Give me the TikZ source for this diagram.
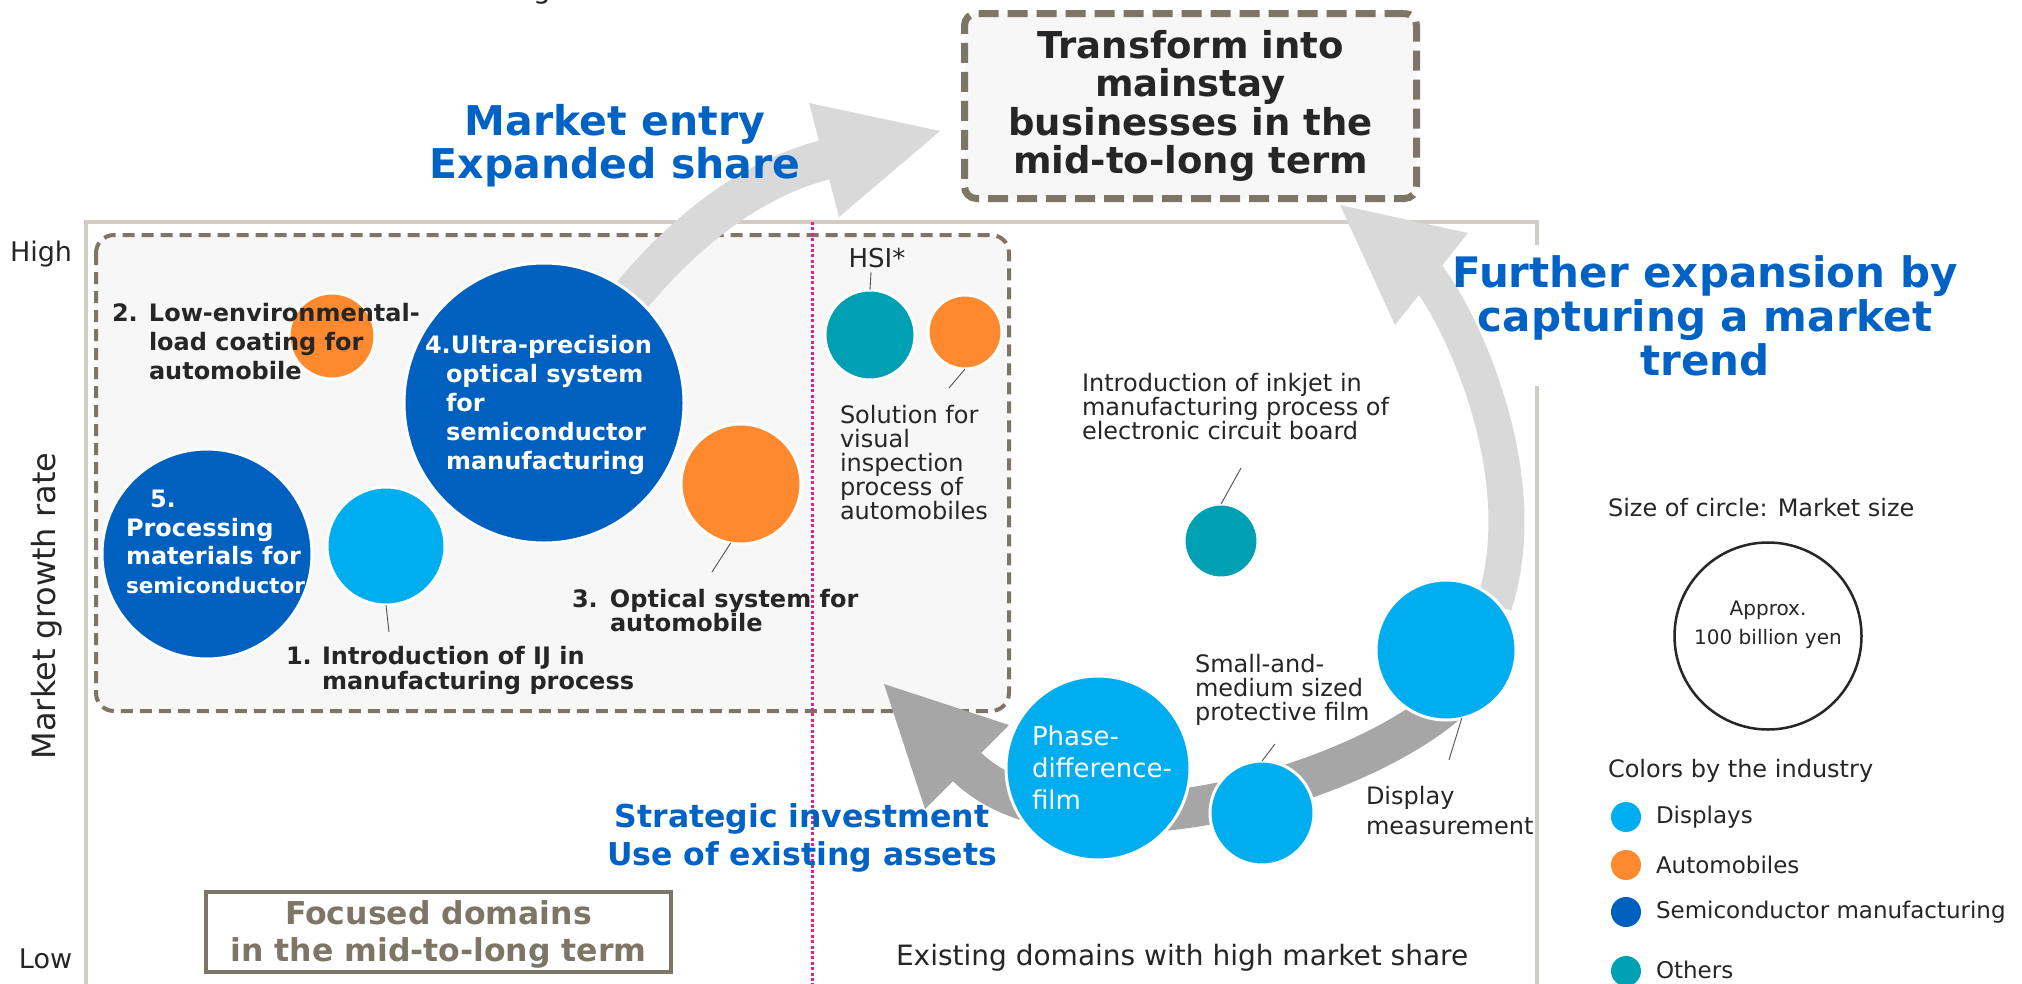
\documentclass[tikz,border=0pt]{standalone}
\usepackage{fontspec}
\setmainfont{DejaVu Sans}
\usetikzlibrary{arrows.meta}
\definecolor{cdisp}{RGB}{0,174,239}
\definecolor{cauto}{RGB}{255,137,46}
\definecolor{csemi}{RGB}{0,96,192}
\definecolor{cother}{RGB}{0,160,180}
\definecolor{lgray}{RGB}{217,217,217}
\definecolor{dgray}{RGB}{166,166,166}
\definecolor{taupe}{RGB}{125,117,101}
\definecolor{framec}{RGB}{208,205,198}
\definecolor{panel}{RGB}{247,247,247}
\definecolor{magline}{RGB}{218,36,146}
\definecolor{txt}{RGB}{38,38,38}
\definecolor{bluetxt}{RGB}{0,98,196}
\newcommand\myfs[2]{\fontsize{#1}{#2}\selectfont}
\begin{document}
\begin{tikzpicture}[x=1pt,y=-1pt,
  every node/.style={inner sep=0pt,outer sep=0pt},
  bub/.style={circle,draw=white,line width=3pt,minimum size=#1pt},
  nlab/.style={text=txt,align=left,font=\myfs{24}{24}},
  blab/.style={text=txt,align=left,font=\myfs{24}{29}\bfseries},
  wlab/.style={text=white,align=left,font=\myfs{24}{29}\bfseries},
  leader/.style={draw=txt!80,line width=0.9pt},
  bigblue/.style={text=bluetxt,align=center,font=\myfs{41}{43}\bfseries},
  legdot/.style={circle,minimum size=30pt}]
\useasboundingbox[fill=white] (0,0) rectangle (2022,983);

% partial glyph at the top edge
\node[anchor=base west,text=txt,font=\myfs{28}{28}] (gtop) at (533,-2) {g};

% main frame (right side interrupted behind the headline)
\coordinate (fr1) at (1537,245);
\coordinate (fr2) at (1537,222);
\coordinate (fr3) at (86,222);
\coordinate (fr4) at (86,1010);
\coordinate (fr5) at (1537,386);
\coordinate (fr6) at (1537,1010);
\draw[framec,line width=4pt] (fr1) -- (fr2) -- (fr3) -- (fr4);
\draw[framec,line width=4pt] (fr5) -- (fr6);

% focused-domain panel
\draw[taupe,line width=4pt,dash pattern=on 12pt off 7pt,fill=panel,rounded corners=18pt] (96,235) rectangle (1009,711);

% dotted divider
\coordinate (dtop) at (812,222);
\coordinate (dbot) at (812,990);
\draw[magline,line width=3pt,dash pattern=on 3pt off 2.4pt] (dtop) -- (dbot);

% goal box
\node[draw=taupe,line width=7pt,dash pattern=on 20pt off 9pt,fill=panel,rounded corners=12pt,
      minimum width=452pt,minimum height=185pt,align=center,text=txt,font=\myfs{37}{38.5}\bfseries] (goal) at (1190.5,106)
  {Transform into\\mainstay\\businesses in the\\mid-to-long term};

% arrows
\coordinate (meS) at (609,324);
\coordinate (meE) at (828,159);
\coordinate (meT) at (940,131);
\draw[lgray,line width=40pt] (meS) .. controls (675,236) and (750,178) .. (meE);
\fill[lgray] (meT) -- (809,103) -- (839,217) -- cycle;

\coordinate (feS) at (1494,605);
\coordinate (feE) at (1426,274);
\coordinate (feT) at (1340,205);
\draw[lgray,line width=36pt] (feS) .. controls (1535,480) and (1465,324) .. (feE);
\fill[lgray] (feT) -- (1468,233) -- (1395,325) -- cycle;

\coordinate (siS) at (1470,680);
\coordinate (siE) at (964,764);
\coordinate (siT) at (884,684);
\draw[dgray,line width=40pt] (siS) .. controls (1398,776) and (1073,876) .. (siE);
\fill[dgray] (siT) -- (1009,725) -- (925,809) -- cycle;

% bubbles
\node[bub=118,fill=cdisp] (c1) at (386,546) {};
\node[bub=86,fill=cauto] (c2) at (332,336) {};
\node[bub=120,fill=cauto] (c3) at (741,484) {};
\node[bub=280,fill=csemi] (c4) at (544,403) {};
\node[bub=210,fill=csemi] (c5) at (207,554) {};
\node[bub=90,fill=cother] (h1) at (870,335) {};
\node[bub=74,fill=cauto] (h2) at (965,332) {};
\node[bub=74,fill=cother] (ik) at (1221,541) {};
\node[bub=140,fill=cdisp] (dm) at (1446,650) {};
\node[bub=104,fill=cdisp] (sf) at (1262,813) {};
\node[bub=184,fill=cdisp] (pf) at (1098,768) {};

% leader lines
\coordinate (k1) at (389,632);
\coordinate (k3) at (712,572);
\coordinate (kh1) at (871,272);
\coordinate (kh2) at (949,388);
\coordinate (kik) at (1241,468);
\coordinate (kdm) at (1449,760);
\coordinate (ksf) at (1275,744);
\draw[leader] (c1.south) -- (k1);
\draw[leader] (c3.-100) -- (k3);
\draw[leader] (h1.north) -- (kh1);
\draw[leader] (h2.south) -- (kh2);
\draw[leader] (ik.north) -- (kik);
\draw[leader] (dm.-77) -- (kdm);
\draw[leader] (sf.north) -- (ksf);

% labels in focused panel
\node[blab,anchor=west] (t2) at (112,342)
  {\makebox[37pt][l]{2.}Low-environmental-\\\hspace*{37pt}load coating for\\\hspace*{37pt}automobile};
\node[wlab,anchor=west] (t4) at (425,405)
  {4.Ultra-precision\\\hspace*{21pt}optical system\\\hspace*{21pt}for\\\hspace*{21pt}semiconductor\\\hspace*{21pt}manufacturing};
\node[wlab,font=\myfs{24}{28.5}\bfseries,anchor=west] (t5) at (126,542)
  {\hspace*{24pt}5.\\Processing\\materials for\\{\myfs{21.5}{28.5}semiconductor}};
\node[blab,font=\myfs{24}{25}\bfseries,anchor=west] (t1) at (286,670)
  {\makebox[36pt][l]{1.}Introduction of IJ in\\\hspace*{36pt}manufacturing process};
\node[blab,font=\myfs{24}{24}\bfseries,anchor=west] (t3) at (572,611)
  {\makebox[38pt][l]{3.}Optical system for\\\hspace*{38pt}automobile};

% other labels
\node[nlab,font=\myfs{26}{26}] (hsi) at (877,258) {HSI*};
\node[nlab,anchor=west] (tsol) at (840,463) {Solution for\\visual\\inspection\\process of\\automobiles};
\node[nlab,anchor=west] (tik) at (1082,407) {Introduction of inkjet in\\manufacturing process of\\electronic circuit board};
\node[nlab,anchor=west] (tsf) at (1195,690) {Small-and-\\medium sized\\protective film};
\node[nlab,font=\myfs{24}{30},anchor=west] (tdm) at (1366,811) {Display\\measurement};
\node[nlab,text=white,font=\myfs{26}{32},anchor=west] (tpf) at (1032,768) {Phase-\\difference-\\film};

% headlines
\node[bigblue] (entry) at (615,146) {Market entry\\Expanded share};
\node[bigblue,font=\myfs{42}{44}\bfseries] (further) at (1705,316) {Further expansion by\\capturing a market\\trend};
\node[bigblue,font=\myfs{31.5}{38}\bfseries] (strat) at (802,838) {Strategic investment\\Use of existing assets};

% axes
\node[nlab,font=\myfs{27}{27},anchor=west] (high) at (10,254) {High};
\node[nlab,font=\myfs{27}{27},anchor=west] (low) at (19,959) {Low};
\node[nlab,font=\myfs{32}{32},rotate=90] (ylab) at (47,606) {Market growth rate};
\node[nlab,font=\myfs{28}{28},anchor=west] (exist) at (896,958) {Existing domains with high market share};
\node[draw=taupe,line width=4pt,minimum width=465pt,minimum height=80pt,align=center,text=taupe,
      font=\myfs{31.5}{37}\bfseries] (focus) at (438.5,932) {};
\node[align=center,text=taupe,font=\myfs{31.5}{37}\bfseries] (focust) at (438.5,934) {Focused domains\\in the mid-to-long term};

% legend
\node[nlab,anchor=west] (lsize) at (1608,508) {Size of circle: Market size};
\node[circle,draw=txt,line width=2.5pt,minimum size=187pt] (lcirc) at (1768,636) {};
\node[text=txt,align=center,font=\myfs{20}{29}] (lcirct) at (1768,625) {Approx.\\100 billion yen};
\node[nlab,anchor=west] (lcol) at (1608,771) {Colors by the industry};
\node[legdot,fill=cdisp] (d1) at (1626,817) {};
\node[legdot,fill=cauto] (d2) at (1626,865) {};
\node[legdot,fill=csemi] (d3) at (1626,912) {};
\node[legdot,fill=cother] (d4) at (1626,971) {};
\node[nlab,font=\myfs{23}{23},anchor=west] (e1) at (1656,817) {Displays};
\node[nlab,font=\myfs{23}{23},anchor=west] (e2) at (1656,865) {Automobiles};
\node[nlab,font=\myfs{23}{23},anchor=west] (e3) at (1656,912) {Semiconductor manufacturing};
\node[nlab,font=\myfs{23}{23},anchor=west] (e4) at (1656,970) {Others};
\end{tikzpicture}
\end{document}
